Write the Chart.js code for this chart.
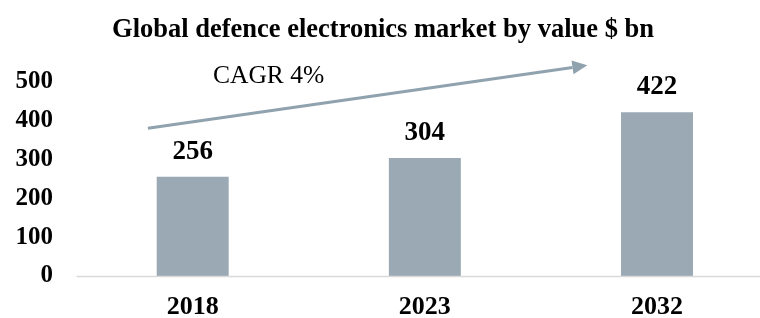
<!DOCTYPE html>
<html>
<head>
<meta charset="utf-8">
<script src="https://cdn.jsdelivr.net/npm/chart.js@4.4.0/dist/chart.umd.min.js"></script>
<style>
  html, body { margin: 0; padding: 0; background: #fff; }
  #wrap { width: 760px; height: 318px; }
</style>
</head>
<body>
<div id="wrap"><canvas id="chart" width="760" height="318"></canvas></div>
<script>
const years = ['2018', '2023', '2032'];
const marketValue = [256, 304, 422];
const yTicks = [0, 100, 200, 300, 400, 500];
const chartTitle = 'Global defence electronics market by value $ bn';
const cagrLabel = 'CAGR 4%';
// arrow ends in data units: [category index, value]
const arrowFrom = [-0.193, 381];
const arrowTo = [1.70, 543];

const barColor = '#9aa9b3';
const serif = '"Liberation Serif", "Times New Roman", serif';

// title, value labels, baseline, CAGR arrow
const extras = {
  id: 'extras',
  afterDatasetsDraw(chart) {
    const ctx = chart.ctx;
    const xs = chart.scales.x, ys = chart.scales.y;
    ctx.save();

    // baseline from half a category left of the first bar to the right edge
    ctx.strokeStyle = '#d9d9d9';
    ctx.lineWidth = 1.5;
    ctx.beginPath();
    ctx.moveTo(xs.getPixelForValue(-0.5), ys.getPixelForValue(0) + 0.5);
    ctx.lineTo(chart.width, ys.getPixelForValue(0) + 0.5);
    ctx.stroke();

    // title
    ctx.fillStyle = '#000';
    ctx.font = 'bold 26.5px ' + serif;
    ctx.textAlign = 'center';
    ctx.textBaseline = 'alphabetic';
    ctx.fillText(chartTitle, 383, 37);

    // values above bars
    ctx.font = 'bold 27px ' + serif;
    chart.getDatasetMeta(0).data.forEach((bar, i) => {
      ctx.fillText(marketValue[i], bar.x, bar.y - 18);
    });

    // arrow
    const x1 = xs.getPixelForValue(arrowFrom[0]), y1 = ys.getPixelForValue(arrowFrom[1]);
    const x2 = xs.getPixelForValue(arrowTo[0]), y2 = ys.getPixelForValue(arrowTo[1]);
    const ang = Math.atan2(y2 - y1, x2 - x1);
    const headLen = 15, headW = 7;
    ctx.strokeStyle = '#8fa2ad';
    ctx.fillStyle = '#8fa2ad';
    ctx.lineWidth = 3;
    ctx.beginPath();
    ctx.moveTo(x1, y1);
    ctx.lineTo(x2 - headLen * Math.cos(ang), y2 - headLen * Math.sin(ang));
    ctx.stroke();
    ctx.beginPath();
    ctx.moveTo(x2, y2);
    ctx.lineTo(x2 - headLen * Math.cos(ang) + headW * Math.sin(ang), y2 - headLen * Math.sin(ang) - headW * Math.cos(ang));
    ctx.lineTo(x2 - headLen * Math.cos(ang) - headW * Math.sin(ang), y2 - headLen * Math.sin(ang) + headW * Math.cos(ang));
    ctx.closePath();
    ctx.fill();

    // CAGR text
    ctx.fillStyle = '#000';
    ctx.font = '25.5px ' + serif;
    ctx.textAlign = 'left';
    ctx.fillText(cagrLabel, xs.getPixelForValue(0.0875), ys.getPixelForValue(497));

    ctx.restore();
  }
};

new Chart(document.getElementById('chart'), {
  type: 'bar',
  data: {
    labels: years,
    datasets: [{
      data: marketValue,
      backgroundColor: barColor,
      borderWidth: 0,
      clip: false,
      categoryPercentage: 1,
      barPercentage: 0.31
    }]
  },
  options: {
    responsive: false,
    animation: false,
    devicePixelRatio: 1,
    layout: { padding: { top: 82, left: 14, right: 103, bottom: 0 } },
    plugins: {
      legend: { display: false },
      tooltip: { enabled: false },
      title: { display: false }
    },
    scales: {
      x: {
        offset: false,
        grid: { display: false, drawTicks: false, offset: false },
        border: { display: false },
        ticks: {
          color: '#000',
          padding: 16,
          font: { family: serif, size: 26, weight: 'bold' }
        },
        afterFit: s => { s.height = 42; s.paddingLeft = 0; s.paddingRight = 0; }
      },
      y: {
        min: 0,
        max: 500,
        afterBuildTicks: s => { s.ticks = yTicks.map(v => ({ value: v })); },
        grid: { display: false, drawTicks: false },
        border: { display: false },
        ticks: {
          color: '#000',
          padding: 139.7,
          font: { family: serif, size: 25, weight: 'bold' }
        },
        afterFit: s => { s.width = 178.7; s.paddingTop = 0; s.paddingBottom = 0; }
      }
    }
  },
  plugins: [extras]
});
</script>
</body>
</html>
